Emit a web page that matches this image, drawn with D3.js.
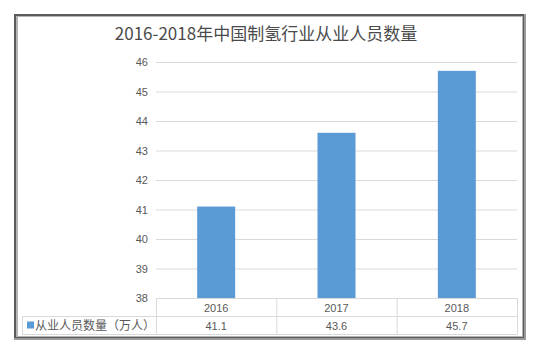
<!DOCTYPE html>
<html>
<head>
<meta charset="utf-8">
<script src="https://cdn.jsdelivr.net/npm/d3@7"></script>
<style>
  body { margin: 0; background: #fff; }
  svg { display: block; font-family: "Microsoft YaHei", "Noto Sans CJK SC", sans-serif; }
</style>
</head>
<body>
<svg width="540" height="354"></svg>
<script>
var years = ['2016', '2017', '2018'];
var workers = [41.1, 43.6, 45.7];
var yTicks = [38, 39, 40, 41, 42, 43, 44, 45, 46];
var seriesName = '从业人员数量（万人）';
var title = '2016-2018年中国制氢行业从业人员数量';

var svg = d3.select('svg');
var plot = { left: 156, right: 517, top: 62, bottom: 298 };
var rowH = 18;

// frame: dark top/left, lighter right/bottom
svg.append('rect').attr('x', 14).attr('y', 14).attr('width', 512).attr('height', 326).attr('fill', '#9a9a9a');
svg.append('rect').attr('x', 14).attr('y', 14).attr('width', 510).attr('height', 324).attr('fill', '#5a5a5a');
svg.append('rect').attr('x', 16).attr('y', 16).attr('width', 507).attr('height', 321).attr('fill', '#b5b5b5');
svg.append('rect').attr('x', 18).attr('y', 17).attr('width', 504).attr('height', 319).attr('fill', '#fff');

svg.append('text')
    .attr('x', 266).attr('y', 40)
    .attr('text-anchor', 'middle')
    .attr('font-size', 17)
    .attr('fill', '#4a4a4a')
    .text(title);

var x = d3.scaleBand().domain(years).range([plot.left, plot.right]);
var y = d3.scaleLinear().domain([38, 46]).range([plot.bottom, plot.top]);

var yAxis = svg.append('g')
    .attr('transform', 'translate(' + plot.left + ',0)')
    .call(d3.axisLeft(y).tickValues(yTicks).tickSize(-(plot.right - plot.left)).tickPadding(8).tickFormat(d3.format('d')));
yAxis.select('.domain').remove();
yAxis.selectAll('.tick line').attr('stroke', '#d9d9d9');
yAxis.selectAll('.tick text').attr('fill', '#595959').attr('font-size', 11)
    .attr('font-family', 'Liberation Sans, Arial, sans-serif');

var barW = 38;
svg.selectAll('rect.bar')
    .data(workers).enter()
    .append('rect')
    .attr('class', 'bar')
    .attr('x', function(d, i) { return x(years[i]) + x.bandwidth() / 2 - barW / 2; })
    .attr('width', barW)
    .attr('y', function(d) { return y(d); })
    .attr('height', function(d) { return y(38) - y(d); })
    .attr('fill', '#5b9bd5');

// data table
var grid = '#d9d9d9';
var t = svg.append('g').attr('stroke', grid).attr('stroke-width', 1).attr('fill', 'none');
var tLeft = 22.5, tTop = plot.bottom + 0.5, tMid = tTop + rowH, tBot = tMid + rowH;
t.append('line').attr('x1', plot.left + 0.5).attr('x2', plot.right + 0.5).attr('y1', tTop).attr('y2', tTop);
t.append('line').attr('x1', tLeft).attr('x2', plot.right + 0.5).attr('y1', tMid).attr('y2', tMid);
t.append('line').attr('x1', tLeft).attr('x2', plot.right + 0.5).attr('y1', tBot).attr('y2', tBot);
t.append('line').attr('x1', tLeft).attr('x2', tLeft).attr('y1', tMid).attr('y2', tBot);
years.forEach(function(yr) {
    t.append('line').attr('x1', x(yr) + 0.5).attr('x2', x(yr) + 0.5).attr('y1', tTop).attr('y2', tBot);
});
t.append('line').attr('x1', plot.right + 0.5).attr('x2', plot.right + 0.5).attr('y1', tTop).attr('y2', tBot);

svg.selectAll('text.yr')
    .data(years).enter()
    .append('text')
    .attr('class', 'yr')
    .attr('x', function(d) { return x(d) + x.bandwidth() / 2; })
    .attr('y', tTop + 13)
    .attr('text-anchor', 'middle')
    .attr('font-size', 11)
    .attr('fill', '#595959')
    .attr('font-family', 'Liberation Sans, Arial, sans-serif')
    .text(function(d) { return d; });

svg.selectAll('text.val')
    .data(workers).enter()
    .append('text')
    .attr('class', 'val')
    .attr('x', function(d, i) { return x(years[i]) + x.bandwidth() / 2; })
    .attr('y', tMid + 13)
    .attr('text-anchor', 'middle')
    .attr('font-size', 11)
    .attr('fill', '#595959')
    .attr('font-family', 'Liberation Sans, Arial, sans-serif')
    .text(function(d) { return d.toFixed(1); });

svg.append('rect').attr('x', 27).attr('y', tMid + 5).attr('width', 7).attr('height', 7).attr('fill', '#5b9bd5');
svg.append('text')
    .attr('x', 35).attr('y', tMid + 13)
    .attr('font-size', 12)
    .attr('fill', '#595959')
    .text(seriesName);
</script>
</body>
</html>
